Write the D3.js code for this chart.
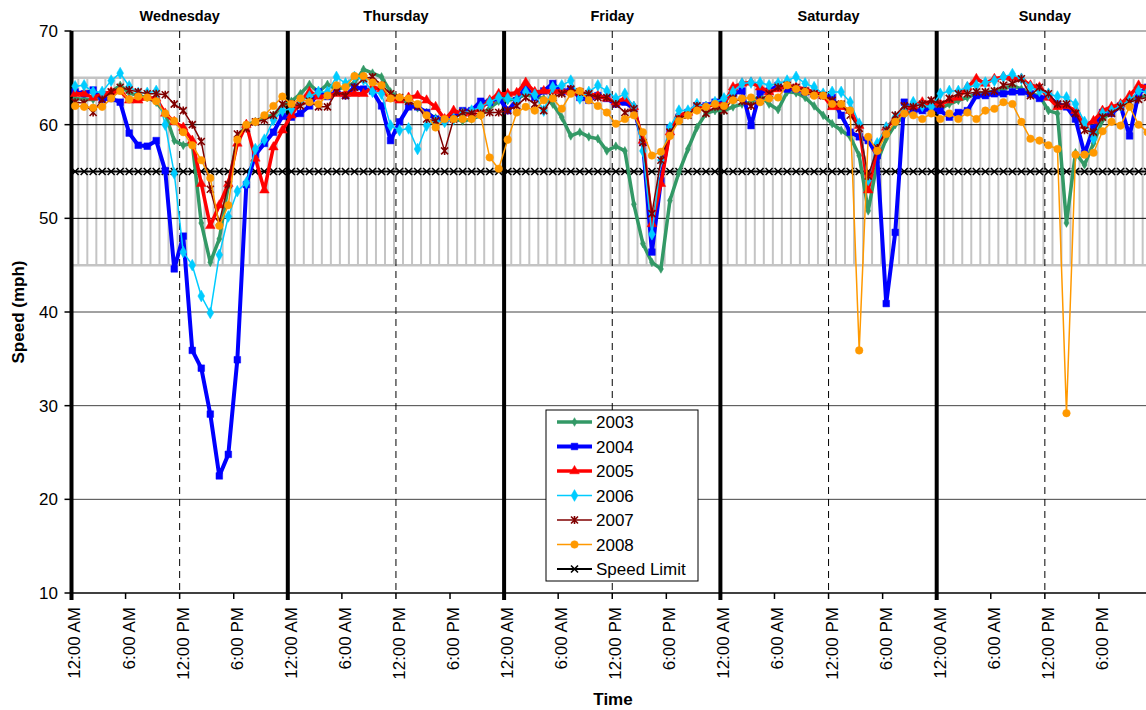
<!DOCTYPE html>
<html>
<head>
<meta charset="utf-8">
<script src="https://cdnjs.cloudflare.com/ajax/libs/d3/7.8.5/d3.min.js"></script>
<style>
  html, body { margin: 0; padding: 0; background: #fff; }
  svg { display: block; font-family: "Liberation Sans", Arial, sans-serif; }
</style>
</head>
<body>
<div id="chart"></div>
<script>
// ---- data ----
const days = ['Wednesday', 'Thursday', 'Friday', 'Saturday', 'Sunday'];
const tickLabels = ['12:00 AM', '6:00 AM', '12:00 PM', '6:00 PM'];
const yTicks = [10, 20, 30, 40, 50, 60, 70];
const years = ['2003', '2004', '2005', '2006', '2007', '2008'];

// hourly average speed (mph), Wednesday 0:00 .. Sunday 23:00
const speed2003 = [
  62.8, 62.7, 62.7, 62.9, 63.5, 64.2, 63.4, 63.1, 62.9, 62.4, 61.2, 58.3, 57.8, 58.0, 49.5, 45.3, 47.8, 53.5, 58.5, 60.0, 60.3, 60.8, 61.0, 62.0,
  62.5, 63.3, 64.3, 63.5, 64.3, 63.8, 64.0, 64.5, 65.9, 65.5, 65.1, 63.5, 62.8, 62.3, 61.8, 61.3, 60.7, 60.6, 60.6, 60.4, 60.6, 61.0, 61.8, 62.5,
  62.6, 62.8, 63.2, 63.0, 62.8, 62.2, 60.8, 58.8, 59.2, 58.7, 58.5, 57.2, 57.7, 57.2, 51.5, 47.3, 45.3, 44.6, 51.9, 54.9, 57.4, 59.7, 61.2, 61.5,
  61.5, 61.9, 62.2, 62.4, 63.1, 62.2, 61.6, 63.5, 63.4, 62.9, 62.0, 61.0, 60.1, 59.4, 58.7, 56.7, 50.8, 56.0, 58.5, 60.0, 61.0, 61.5, 61.8, 62.0,
  61.7, 62.2, 62.6, 62.9, 63.3, 63.4, 63.6, 63.8, 64.2, 63.8, 63.3, 63.1, 61.5, 61.2, 49.5, 57.0, 55.7, 58.0, 60.5, 61.5, 62.0, 62.5, 63.0, 63.0
];
const speed2004 = [
  63.5, 63.3, 63.7, 62.7, 62.8, 62.4, 59.1, 57.8, 57.7, 58.3, 55.1, 44.6, 48.1, 35.9, 34.0, 29.1, 22.5, 24.8, 34.9, 53.6, 56.8, 58.0, 59.2, 60.9,
  60.8, 61.2, 62.0, 63.5, 63.0, 63.5, 63.1, 64.0, 63.8, 63.6, 62.0, 58.3, 60.3, 61.9, 61.9, 61.3, 60.6, 60.5, 60.8, 61.5, 61.5, 62.5, 62.4, 62.9,
  61.5, 62.6, 64.0, 62.9, 63.6, 64.4, 63.5, 63.8, 62.9, 62.6, 63.1, 62.8, 62.2, 62.4, 61.7, 58.1, 46.4, 54.0, 59.6, 60.8, 61.3, 62.0, 62.0, 62.4,
  62.6, 63.3, 63.6, 59.9, 63.5, 63.6, 64.2, 63.8, 63.8, 63.5, 63.3, 63.1, 62.9, 61.0, 59.2, 58.7, 58.3, 56.7, 40.9, 48.5, 62.4, 61.5, 61.5, 61.7,
  61.5, 60.8, 61.3, 61.5, 63.1, 63.1, 63.3, 63.3, 63.5, 63.5, 63.3, 62.8, 63.0, 62.2, 61.9, 60.6, 56.9, 59.6, 61.3, 61.2, 62.0, 58.8, 63.3, 64.0
];
const speed2005 = [
  63.3, 63.3, 62.9, 63.3, 63.5, 63.6, 62.6, 62.6, 62.9, 62.8, 61.2, 60.3, 59.7, 58.3, 53.7, 49.2, 51.4, 53.7, 58.0, 60.0, 56.4, 53.0, 57.6, 59.4,
  61.0, 62.5, 63.5, 63.0, 63.1, 63.3, 63.3, 63.3, 63.3, 64.0, 63.8, 62.8, 62.6, 62.9, 63.1, 62.6, 61.9, 60.6, 61.5, 61.2, 61.3, 61.7, 62.6, 63.3,
  63.3, 63.4, 64.5, 63.5, 63.6, 63.6, 63.6, 63.5, 63.4, 63.3, 63.1, 62.8, 62.4, 62.8, 61.9, 58.3, 49.4, 53.7, 59.2, 61.0, 61.3, 62.0, 61.9, 62.2,
  62.2, 64.0, 64.4, 64.5, 64.0, 63.5, 63.8, 64.2, 64.0, 63.8, 63.5, 63.1, 61.9, 61.9, 61.5, 59.9, 53.0, 57.5, 59.7, 60.6, 61.5, 62.0, 62.4, 62.4,
  62.2, 62.6, 62.9, 64.0, 64.9, 64.4, 64.9, 65.1, 65.0, 64.9, 64.2, 64.0, 62.9, 61.9, 62.0, 61.5, 59.9, 60.4, 61.5, 61.9, 62.2, 63.1, 64.2, 64.0
];
const speed2006 = [
  64.1, 64.2, 63.5, 63.5, 64.7, 65.5, 64.1, 63.4, 63.4, 63.6, 60.0, 54.8, 46.4, 45.0, 41.7, 39.9, 46.1, 50.2, 52.9, 53.8, 57.4, 58.4, 60.5, 61.5,
  61.7, 62.5, 63.0, 63.5, 63.5, 65.1, 64.4, 65.1, 64.8, 63.5, 63.3, 59.9, 59.4, 59.6, 57.4, 59.9, 60.4, 60.3, 60.6, 61.2, 61.5, 61.9, 62.4, 62.9,
  62.8, 62.6, 63.5, 63.2, 61.5, 64.0, 64.2, 64.7, 62.8, 63.5, 64.2, 63.6, 62.8, 63.3, 61.9, 57.2, 48.3, 56.2, 59.7, 61.5, 61.5, 62.2, 61.9, 62.4,
  62.8, 63.5, 64.4, 64.5, 64.5, 64.2, 64.4, 64.7, 65.1, 64.4, 64.0, 63.3, 63.5, 63.5, 62.4, 60.1, 54.1, 58.0, 59.7, 60.8, 61.7, 62.4, 62.0, 61.9,
  63.3, 63.6, 63.6, 64.0, 64.2, 64.5, 64.7, 65.1, 65.4, 64.9, 64.0, 63.6, 63.3, 63.0, 62.9, 62.2, 60.3, 58.5, 61.2, 61.5, 62.0, 62.6, 63.6, 63.5
];
const speed2007 = [
  62.4, 62.3, 61.3, 62.7, 63.5, 64.0, 63.7, 63.5, 63.3, 63.3, 63.2, 62.2, 61.5, 60.0, 58.2, 53.1, 49.6, 53.6, 59.0, 59.6, 60.3, 60.5, 61.0, 62.2,
  62.2, 62.0, 62.5, 61.9, 61.9, 63.5, 63.1, 64.0, 64.9, 65.1, 64.2, 63.3, 62.9, 62.5, 62.0, 60.6, 60.4, 57.2, 60.6, 61.3, 61.2, 61.2, 61.3, 61.3,
  61.5, 62.0, 62.9, 62.2, 61.5, 62.9, 63.3, 63.8, 63.5, 63.3, 62.9, 62.9, 62.2, 61.3, 61.7, 58.1, 50.5, 56.2, 59.2, 60.6, 61.0, 62.0, 61.2, 61.9,
  61.5, 62.8, 62.5, 62.0, 62.6, 63.3, 64.0, 64.2, 64.0, 63.6, 63.3, 63.1, 62.6, 62.2, 61.0, 59.6, 54.5, 57.5, 59.4, 61.0, 62.0, 61.9, 62.2, 62.6,
  62.2, 62.8, 63.3, 63.3, 63.5, 63.5, 63.6, 64.2, 64.4, 64.9, 63.1, 64.0, 63.3, 62.2, 62.2, 61.2, 59.4, 59.2, 60.8, 61.2, 61.9, 62.4, 62.7, 62.9
];
const speed2008 = [
  62.0, 61.9, 61.8, 61.9, 62.8, 63.6, 62.7, 63.0, 62.9, 62.5, 61.2, 60.4, 59.2, 57.8, 56.2, 54.3, 49.2, 51.4, 58.4, 60.0, 60.3, 61.0, 62.0, 63.0,
  62.2, 62.8, 62.4, 62.2, 63.1, 64.2, 64.0, 65.2, 65.2, 64.5, 64.2, 62.8, 62.9, 62.8, 62.2, 61.0, 59.7, 60.6, 60.6, 60.6, 60.6, 61.0, 56.5, 55.3,
  58.4, 61.3, 61.9, 61.5, 62.6, 62.8, 61.7, 63.3, 63.6, 62.6, 62.0, 61.3, 60.1, 60.6, 61.0, 59.2, 56.7, 57.1, 58.8, 60.4, 61.0, 61.5, 61.9, 62.2,
  62.0, 62.6, 62.8, 62.9, 62.4, 62.8, 62.9, 64.2, 63.8, 63.5, 63.1, 63.1, 62.2, 62.2, 61.5, 35.9, 58.7, 57.2, 59.0, 60.3, 61.2, 61.0, 60.6, 61.2,
  60.6, 61.2, 60.6, 61.3, 60.6, 61.5, 61.7, 62.4, 62.2, 60.3, 58.5, 58.3, 57.8, 57.4, 29.2, 56.8, 56.8, 57.0, 59.3, 60.3, 59.9, 61.9, 60.0, 59.2
];
const speedLimit = 55;
const normalBand = [45, 65];

// ---- layout ----
const width = 1146;
const height = 710;
const plotLeft = 71.5;
const plotRight = 1153;   // last day runs past the picture edge
const plotTop = 31;
const plotBottom = 593;
const hours = days.length * 24;
const pointOffset = 0.4;  // points sit a bit past the hour mark

const svg = d3.select('#chart')
  .append('svg')
  .attr('width', width)
  .attr('height', height);

const x = d3.scaleLinear().domain([0, hours]).range([plotLeft, plotRight]);
const y = d3.scaleLinear().domain([10, 70]).range([plotBottom, plotTop]);
const hourIdx = d3.range(hours);

// gray "normal" band with vertical hatching
svg.append('rect')
  .attr('x', plotLeft)
  .attr('y', y(normalBand[1]))
  .attr('width', plotRight - plotLeft)
  .attr('height', y(normalBand[0]) - y(normalBand[1]))
  .attr('fill', '#fff');

svg.append('g')
  .selectAll('line')
  .data(d3.range(78.3, plotRight, 9.02))
  .enter()
  .append('line')
  .attr('x1', d => d).attr('x2', d => d)
  .attr('y1', y(normalBand[1])).attr('y2', y(normalBand[0]))
  .attr('stroke', '#c4c4c4')
  .attr('stroke-width', 2);

svg.append('g')
  .selectAll('line')
  .data(normalBand)
  .enter()
  .append('line')
  .attr('x1', plotLeft).attr('x2', plotRight)
  .attr('y1', d => y(d)).attr('y2', d => y(d))
  .attr('stroke', '#c4c4c4')
  .attr('stroke-width', 2.5);

// horizontal gridlines
svg.append('g')
  .selectAll('line')
  .data(yTicks.slice(1))
  .enter()
  .append('line')
  .attr('x1', plotLeft).attr('x2', plotRight)
  .attr('y1', d => y(d)).attr('y2', d => y(d))
  .attr('stroke', d => d === 70 ? '#9a9a9a' : (d >= 50 ? '#000' : '#444'))
  .attr('stroke-width', d => d === 70 ? 1.5 : 1);

// noon dashed lines
svg.append('g')
  .selectAll('line')
  .data(days.map((d, i) => i * 24 + 12))
  .enter()
  .append('line')
  .attr('x1', d => x(d)).attr('x2', d => x(d))
  .attr('y1', plotTop).attr('y2', plotBottom)
  .attr('stroke', '#000')
  .attr('stroke-width', 1)
  .attr('stroke-dasharray', '7,5');

// day boundaries
svg.append('g')
  .selectAll('line')
  .data(days.map((d, i) => i * 24))
  .enter()
  .append('line')
  .attr('x1', d => x(d)).attr('x2', d => x(d))
  .attr('y1', plotTop).attr('y2', plotBottom + 7)
  .attr('stroke', '#000')
  .attr('stroke-width', 4);

// axes lines + ticks
svg.append('line')
  .attr('x1', plotLeft).attr('x2', plotRight)
  .attr('y1', plotBottom).attr('y2', plotBottom)
  .attr('stroke', '#000').attr('stroke-width', 1.5);

svg.append('g')
  .selectAll('line')
  .data(yTicks)
  .enter()
  .append('line')
  .attr('x1', plotLeft - 7).attr('x2', plotLeft)
  .attr('y1', d => y(d)).attr('y2', d => y(d))
  .attr('stroke', '#000').attr('stroke-width', 1.5);

svg.append('g')
  .selectAll('text')
  .data(yTicks)
  .enter()
  .append('text')
  .attr('x', 58)
  .attr('y', d => y(d))
  .attr('dy', '0.36em')
  .attr('text-anchor', 'end')
  .attr('font-size', '17px')
  .text(d => d);

const xTicks = d3.range(0, hours, 6);
svg.append('g')
  .selectAll('line')
  .data(xTicks)
  .enter()
  .append('line')
  .attr('x1', d => x(d)).attr('x2', d => x(d))
  .attr('y1', plotBottom).attr('y2', plotBottom + 6)
  .attr('stroke', '#000').attr('stroke-width', 1.5);

svg.append('g')
  .selectAll('text')
  .data(xTicks)
  .enter()
  .append('text')
  .attr('transform', d => `translate(${x(d) + 3}, 607) rotate(-90)`)
  .attr('text-anchor', 'end')
  .attr('dy', '0.35em')
  .attr('font-size', '17px')
  .text((d, i) => tickLabels[i % tickLabels.length]);

// day names
svg.append('g')
  .selectAll('text')
  .data(days)
  .enter()
  .append('text')
  .attr('x', (d, i) => x(i * 24 + 12))
  .attr('y', 21)
  .attr('text-anchor', 'middle')
  .attr('font-size', '14.5px')
  .attr('font-weight', 'bold')
  .text(d => d);

// axis titles
svg.append('text')
  .attr('transform', `translate(18, ${(plotTop + plotBottom) / 2}) rotate(-90)`)
  .attr('text-anchor', 'middle')
  .attr('dy', '0.35em')
  .attr('font-size', '17px')
  .attr('font-weight', 'bold')
  .text('Speed (mph)');

svg.append('text')
  .attr('x', 613)
  .attr('y', 705)
  .attr('text-anchor', 'middle')
  .attr('font-size', '17px')
  .attr('font-weight', 'bold')
  .text('Time');

// ---- series ----
const starPath = 'M-3.5,-3.5L3.5,3.5M-3.5,3.5L3.5,-3.5M0,-4L0,4';
const crossPath = 'M-3.5,-3.5L3.5,3.5M-3.5,3.5L3.5,-3.5';

const seriesStyle = {
  '2003': { values: speed2003, color: '#339966', width: 3.5, marker: d3.symbol(d3.symbolDiamond, 22)() },
  '2004': { values: speed2004, color: '#0000ff', width: 4, marker: d3.symbol(d3.symbolSquare, 44)() },
  '2005': { values: speed2005, color: '#ff0000', width: 3.5, marker: d3.symbol(d3.symbolTriangle, 40)() },
  '2006': { values: speed2006, color: '#00ccff', width: 1.5, marker: d3.symbol(d3.symbolDiamond, 40)() },
  '2007': { values: speed2007, color: '#800000', width: 1.5, marker: starPath, stroked: true },
  '2008': { values: speed2008, color: '#ff9900', width: 1.5, marker: d3.symbol(d3.symbolCircle, 45)() }
};

const line = d3.line()
  .x((d, i) => x(i + pointOffset))
  .y(d => y(d));

// speed limit
svg.append('line')
  .attr('x1', plotLeft).attr('x2', plotRight)
  .attr('y1', y(speedLimit)).attr('y2', y(speedLimit))
  .attr('stroke', '#000').attr('stroke-width', 2);

svg.append('g')
  .selectAll('path')
  .data(hourIdx)
  .enter()
  .append('path')
  .attr('transform', d => `translate(${x(d + pointOffset)}, ${y(speedLimit)})`)
  .attr('d', crossPath)
  .attr('fill', 'none')
  .attr('stroke', '#000')
  .attr('stroke-width', 1.6);

years.forEach(year => {
  const s = seriesStyle[year];
  const g = svg.append('g');

  g.append('path')
    .datum(s.values)
    .attr('d', line)
    .attr('fill', 'none')
    .attr('stroke', s.color)
    .attr('stroke-width', s.width)
    .attr('stroke-linejoin', 'round');

  g.selectAll('.pt')
    .data(s.values)
    .enter()
    .append('path')
    .attr('class', 'pt')
    .attr('transform', (d, i) => `translate(${x(i + pointOffset)}, ${y(d)})`)
    .attr('d', s.marker)
    .attr('fill', s.stroked ? 'none' : s.color)
    .attr('stroke', s.color)
    .attr('stroke-width', s.stroked ? 1.6 : 0.5);
});

// ---- legend ----
const legend = svg.append('g')
  .attr('transform', 'translate(546, 410)');

legend.append('rect')
  .attr('width', 152)
  .attr('height', 171)
  .attr('fill', '#fff')
  .attr('stroke', '#000')
  .attr('stroke-width', 1);

const legendItems = legend.selectAll('.legend-item')
  .data(years.concat(['Speed Limit']))
  .enter()
  .append('g')
  .attr('class', 'legend-item')
  .attr('transform', (d, i) => `translate(0, ${12 + i * 24.5})`);

legendItems.append('line')
  .attr('x1', 11).attr('x2', 46)
  .attr('stroke', d => seriesStyle[d] ? seriesStyle[d].color : '#000')
  .attr('stroke-width', d => seriesStyle[d] ? seriesStyle[d].width : 2);

legendItems.append('path')
  .attr('transform', 'translate(28.5, 0)')
  .attr('d', d => seriesStyle[d] ? seriesStyle[d].marker : crossPath)
  .attr('fill', d => seriesStyle[d] && !seriesStyle[d].stroked ? seriesStyle[d].color : 'none')
  .attr('stroke', d => seriesStyle[d] ? seriesStyle[d].color : '#000')
  .attr('stroke-width', d => seriesStyle[d] && !seriesStyle[d].stroked ? 0.5 : 1.6);

legendItems.append('text')
  .attr('x', 50)
  .attr('dy', '0.36em')
  .attr('font-size', '17px')
  .text(d => d);
</script>
</body>
</html>
